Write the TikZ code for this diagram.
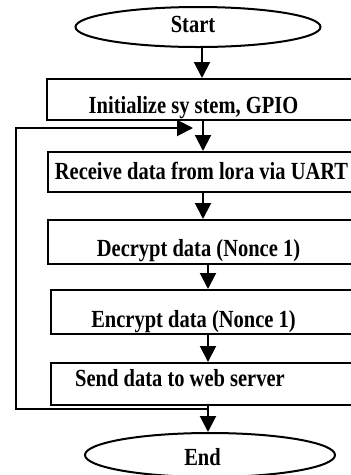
\documentclass[tikz,border=0pt]{standalone}
\usepackage{graphicx}
\usepackage{fontspec}
\setmainfont{Liberation Serif}
\usetikzlibrary{arrows.meta,shapes.geometric}
\newcommand{\vs}[1]{\scalebox{1}[1.2]{#1}}
\begin{document}
\begin{tikzpicture}[x=1pt,y=-1pt,
  box/.style={draw=black, line width=2pt, rectangle, anchor=north west, inner sep=0pt, minimum width=380pt},
  term/.style={draw=black, line width=2pt, ellipse, inner sep=0pt},
  lbl/.style={anchor=base, inner sep=0pt, text=black, font=\bfseries\fontsize{20.5}{24}\selectfont},
  arr/.style={draw=black, line width=2pt, -{Triangle[length=16pt,width=16pt]}}]
\path[use as bounding box, clip] (0,0) rectangle (351,475);
\fill[white] (0,0) rectangle (351,475);
% terminals
\node[term, minimum width=245pt, minimum height=40pt] (st) at (198,27) {};
\node[term, minimum width=250pt, minimum height=44pt] (en) at (210,455) {};
% process boxes
\node[box, minimum height=41pt] (b1) at (46,78) {};
\node[box, minimum height=40pt] (b2) at (47,151) {};
\node[box, minimum height=44pt] (b3) at (47,219) {};
\node[box, minimum height=44pt] (b4) at (50,289) {};
\node[box, minimum height=42pt] (b5) at (50,362) {};
% labels
\node[lbl] (tst) at (193,32) {\vs{Start}};
\node[lbl] (t1) at (193.5,113) {\vs{Initialize sy stem, GPIO}};
\node[lbl] (t2) at (201.5,179) {\vs{Receive data from lora via UART}};
\node[lbl] (t3) at (198.5,256) {\vs{Decrypt data (Nonce 1)}};
\node[lbl] (t4) at (193.5,327) {\vs{Encrypt data (Nonce 1)}};
\node[lbl] (t5) at (180,386) {\vs{Send data to web server}};
\node[lbl] (ten) at (202.5,465) {\vs{End}};
% helper coordinates
\coordinate (xa) at (202,0);
\coordinate (xb) at (203,0);
\coordinate (xc) at (208,0);
\coordinate (lx) at (16,0);
\coordinate (lt) at (193,128);
\coordinate (lj) at (208,409);
% connectors
\draw[arr] (st.south -| xa) -- (b1.north -| xa);
\draw[arr] (b1.south -| xb) -- (b2.north -| xb);
\draw[arr] (b2.south -| xb) -- (b3.north -| xb);
\draw[arr] (b3.south -| xc) -- (b4.north -| xc);
\draw[arr] (b4.south -| xc) -- (b5.north -| xc);
\draw[arr] (b5.south -| xc) -- (en.north -| xc);
\draw[arr] (lj) -- (lj -| lx) -- (lx |- lt) -- (lt);
\end{tikzpicture}
\end{document}
